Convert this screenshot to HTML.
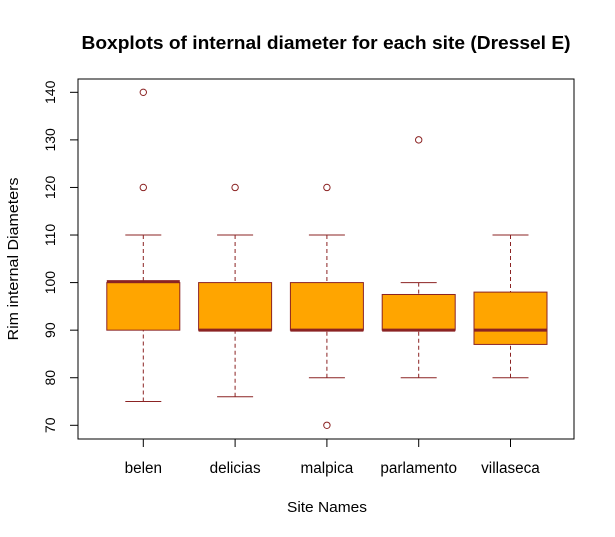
<!DOCTYPE html>
<html><head><meta charset="utf-8"><style>body{margin:0;background:#fff}svg{display:block}text{font-family:"Liberation Sans",Arial,sans-serif}</style></head>
<body>
<svg id="chart" width="615" height="537" xmlns="http://www.w3.org/2000/svg">
<rect width="615" height="537" fill="#fff"/>
<text x="326" y="49" font-size="18" font-weight="bold" text-anchor="middle" textLength="489" lengthAdjust="spacingAndGlyphs">Boxplots of internal diameter for each site (Dressel E)</text>
<text x="327" y="512" font-size="15" text-anchor="middle" textLength="80" lengthAdjust="spacingAndGlyphs">Site Names</text>
<text transform="translate(18,259) rotate(-90)" font-size="15" text-anchor="middle" textLength="163" lengthAdjust="spacingAndGlyphs">Rim internal Diameters</text>
<rect x="78" y="79" width="496" height="360" fill="none" stroke="#000"/>
<g id="axes"></g><g id="boxes"></g>
</svg>
<script>
const categories=["belen","delicias","malpica","parlamento","villaseca"];
const whiskerLow=[75,76,80,80,80];
const q1=[90,90,90,90,87];
const medians=[100.2,90,90,90,90];
const q3=[100,100,100,97.5,98];
const whiskerHigh=[110,110,110,100,110];
const outliers=[[120,140],[120],[120,70],[130],[]];
const yTicks=[70,80,90,100,110,120,130,140];
const NS="http://www.w3.org/2000/svg";
const y=v=>425.3-(v-70)*4.757;
const x=i=>143.3+i*91.8;
function mk(p,t,a){const e=document.createElementNS(NS,t);for(const k in a)e.setAttribute(k,a[k]);p.appendChild(e);return e;}
const ax=document.getElementById('axes'),bx=document.getElementById('boxes');
const c="#8B2323";
yTicks.forEach(v=>{
 const l=mk(ax,'line',{x1:70,x2:78,y1:y(v),y2:y(v),stroke:'#000'});
 
 
 const t=mk(ax,'text',{x:0,y:0,'font-size':14,'text-anchor':'middle',transform:`translate(55,${y(v)}) rotate(-90)`});
 
 
 t.textContent=v;
});
categories.forEach((n,i)=>{
 const cx=x(i);
 const tk=mk(ax,'line',{x1:cx,x2:cx,y1:439,y2:447,stroke:'#000'});
 
 
 const t=mk(ax,'text',{x:cx,y:473,'font-size':15.3,'text-anchor':'middle'});
 
 
 t.textContent=n;
 const g=mk(bx,'g',{});
 
 
 mk(g,'line',{x1:cx,x2:cx,y1:y(whiskerLow[i]),y2:y(q1[i]),stroke:c,'stroke-dasharray':'4,3'});
 mk(g,'line',{x1:cx,x2:cx,y1:y(whiskerHigh[i]),y2:y(q3[i]),stroke:c,'stroke-dasharray':'4,3'});
 mk(g,'line',{x1:cx-18,x2:cx+18,y1:y(whiskerLow[i]),y2:y(whiskerLow[i]),stroke:c});
 mk(g,'line',{x1:cx-18,x2:cx+18,y1:y(whiskerHigh[i]),y2:y(whiskerHigh[i]),stroke:c});
 const top=Math.min(y(q3[i]),y(q1[i])),h=Math.abs(y(q1[i])-y(q3[i]));
 mk(g,'rect',{x:cx-36.5,y:top,width:73,height:h,fill:'#FFA500',stroke:c});
 mk(g,'line',{x1:cx-36.5,x2:cx+36.5,y1:y(medians[i]),y2:y(medians[i]),stroke:c,'stroke-width':3});
 outliers[i].forEach(o=>{
  const p=mk(g,'circle',{cx:cx,cy:y(o),r:3.2,fill:'none',stroke:c});
  
  
 });
});
</script>
</body></html>
